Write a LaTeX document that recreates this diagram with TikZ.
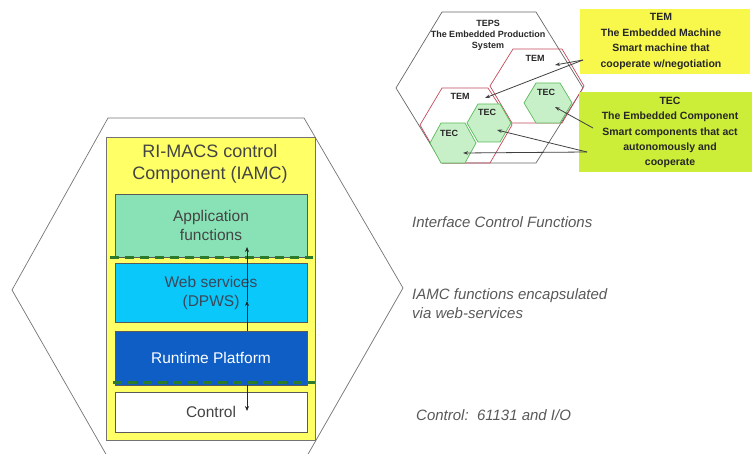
\documentclass[tikz,border=0pt]{standalone}
\usepackage{fontspec}
\setmainfont{Liberation Sans}
\usetikzlibrary{arrows.meta}
\definecolor{yelbox}{HTML}{FFFF66}
\definecolor{appcol}{HTML}{88E2B6}
\definecolor{webcol}{HTML}{0BC8FA}
\definecolor{webtxt}{HTML}{3A4658}
\definecolor{runcol}{HTML}{0E5EC6}
\definecolor{dashgreen}{HTML}{2C7A2C}
\definecolor{txtgray}{HTML}{444444}
\definecolor{temred}{HTML}{C24A5A}
\definecolor{tecfill}{HTML}{C8F0C8}
\definecolor{tecline}{HTML}{5CB85C}
\definecolor{temboxcol}{HTML}{F8F84C}
\definecolor{tecboxcol}{HTML}{CCEE38}
\tikzset{
  layer/.style={draw=black!65, line width=0.8pt, inner sep=0pt, align=center,
    minimum width=192, font=\fontsize{15.5}{19}\selectfont, text=txtgray},
  dashline/.style={dashgreen, line width=2.8pt, dash pattern=on 9pt off 6pt},
  arr/.style={black!85, line width=0.7pt, -{Stealth[length=5pt,width=4pt]}},
  sidetxt/.style={anchor=west, inner sep=0pt, align=left, text=black!65,
    font=\fontsize{15}{19}\selectfont\itshape},
  hexlbl/.style={inner sep=0pt, font=\fontsize{9}{11}\selectfont\bfseries, text=black!85, align=center},
  infobox/.style={inner sep=0pt, align=center, font=\fontsize{10.5}{15.5}\selectfont\bfseries, text=black!85},
  ptr/.style={black!75, line width=0.8pt, -{Stealth[length=5pt,width=3.5pt]}},
  tem/.style={draw=temred, line width=0.7pt},
  tec/.style={draw=tecline, fill=tecfill, line width=0.7pt}
}
\begin{document}
\begin{tikzpicture}[x=1pt,y=-1pt]
\useasboundingbox (0,0) rectangle (752,454);
% big hexagon
\draw[black!55, line width=0.7pt] (107,456) -- (12,290) -- (108,118) -- (304,118) -- (403,288) -- (307,456);
% IAMC component
\node[draw=black!55, line width=0.8pt, fill=yelbox, minimum width=209, minimum height=303, inner sep=0pt] (iamc) at (210.5,288.5) {};
\node[inner sep=0pt, align=center, text=txtgray, font=\fontsize{18}{22}\selectfont] (title) at (210,164) {RI-MACS control\\Component (IAMC)};
\node[layer, fill=appcol, minimum height=63] (app) at (211,225.5) {Application\\functions};
\node[layer, fill=webcol, minimum height=59, text=webtxt] (web) at (211,292.5) {Web services\\(DPWS)};
\node[layer, fill=runcol, minimum height=54, text=white] (run) at (211,358) {Runtime Platform};
\node[layer, fill=white, minimum height=40] (ctrl) at (211,412) {Control};
\draw[dashline] ([xshift=-5]app.south west) -- ([xshift=6]app.south east);
\draw[dashline] ([xshift=-2,yshift=3]run.south west) -- ([xshift=8,yshift=3]run.south east);
\coordinate (a1) at (247,301);
\coordinate (a2) at (247,247);
\coordinate (a4) at (247,411);
\draw[arr] (run.north -| a1) -- (a1);
\draw[arr] (a1) -- (a2);
\draw[arr] (run.south -| a4) -- (a4);
% side texts
\node[sidetxt] (ticf) at (412,222) {Interface Control Functions};
\node[sidetxt] (tiamc) at (412,303.5) {IAMC functions encapsulated\\via web-services};
\node[sidetxt] (tctrl) at (416,415) {Control:\ \ 61131 and I/O};
% TEPS hexagon
\draw[black!60, line width=0.7pt] (442,12) -- (536,12) -- (583,88) -- (536,163) -- (442,163) -- (396,88) -- cycle;
\node[hexlbl] (teps) at (488,35) {TEPS\\The Embedded Production\\System};
\draw[tem] (513,49) -- (562,49) -- (584,86) -- (562,123) -- (512,123) -- (490,86) -- cycle;
\draw[tem] (442,88) -- (488,88) -- (512,125) -- (490,163) -- (442,163) -- (420,125) -- cycle;
\node[hexlbl] (tem1) at (535,58) {TEM};
\node[hexlbl] (tem2) at (460,96) {TEM};
\draw[tec] (536,83) -- (560,83) -- (572,103) -- (560,123) -- (536,123) -- (524,103) -- cycle;
\draw[tec] (478,104) -- (500,104) -- (511,123) -- (500,142) -- (478,142) -- (467,123) -- cycle;
\draw[tec] (441,123) -- (465,123) -- (476,143) -- (465,163) -- (441,163) -- (430,143) -- cycle;
\node[hexlbl] (tec1) at (546,92) {TEC};
\node[hexlbl] (tec2) at (487,112) {TEC};
\node[hexlbl] (tec3) at (449,133) {TEC};
% info boxes
\node[fill=temboxcol, minimum width=170, minimum height=65, inner sep=0pt] (tembox) at (665,41.5) {};
\node[infobox] (temtxt) at (661,41.5) {TEM\\The Embedded Machine\\Smart machine that\\cooperate w/negotiation};
\node[fill=tecboxcol, minimum width=173, minimum height=80, inner sep=0pt] (tecbox) at (665.5,132) {};
\node[infobox, font=\fontsize{10.5}{15.25}\selectfont\bfseries] (tectxt) at (670,132.5) {TEC\\The Embedded Component\\Smart components that act\\autonomously and\\cooperate};
% pointers
\coordinate (ps1) at (583,60);
\coordinate (pt1) at (555,65);
\coordinate (pt2) at (485,98);
\draw[ptr] (ps1) -- (pt1);
\draw[ptr] (ps1) -- (pt2);
\coordinate (ps2) at (593,128);
\coordinate (ps3) at (587,152);
\coordinate (pt3) at (555,107);
\coordinate (pt4) at (497,130);
\coordinate (pt5) at (463,153);
\draw[ptr] (ps2) -- (pt3);
\draw[ptr] (ps3) -- (pt4);
\draw[ptr] (ps3) -- (pt5);
\end{tikzpicture}
\end{document}
